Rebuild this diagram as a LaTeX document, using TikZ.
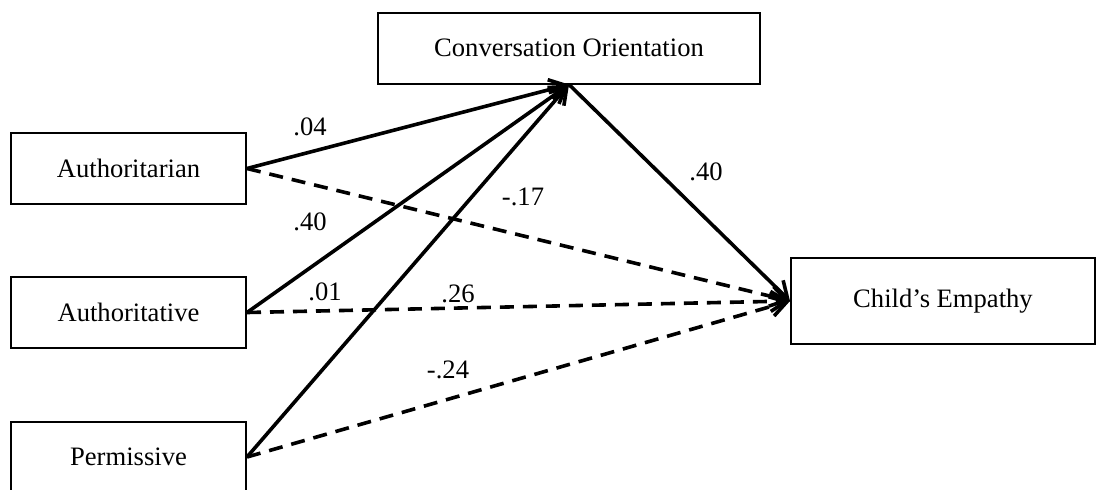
\documentclass[tikz,border=0pt]{standalone}
\usepackage{fontspec}
\setmainfont{Liberation Serif}
\usetikzlibrary{arrows.meta}

\tikzstyle{box} = [draw, line width=1pt, minimum height=35.5pt, inner sep=0pt, font=\fontsize{13.3}{15}\selectfont]
\tikzstyle{coef} = [inner sep=0pt, font=\fontsize{13.3}{15}\selectfont]
\tikzstyle{path} = [line width=1.8pt, -{Straight Barb[length=8pt,width=10pt,line width=1.8pt]}]
\tikzstyle{weak} = [path, dash pattern=on 7pt off 4.5pt]

\begin{document}
\begin{tikzpicture}[x=0.5pt,y=-0.5pt]
\useasboundingbox (0,0) rectangle (1096,489);
% boxes
\node[box, minimum width=191pt] (conv) at (569,48) {Conversation Orientation};
\node[box, minimum width=117.5pt] (auth) at (128.5,168.5) {Authoritarian};
\node[box, minimum width=117.5pt] (autv) at (128.5,312.5) {Authoritative};
\node[box, minimum width=117.5pt] (perm) at (128.5,457) {Permissive};
\node[box, minimum width=152pt, minimum height=43pt] (child) at (943,301) {Child's Empathy};
% paths to the mediator
\draw[path] (auth.east) -- (conv.south);
\draw[path] (autv.east) -- (conv.south);
\draw[path] (perm.east) -- (conv.south);
\draw[path] (conv.south) -- (child.west);
% direct paths
\draw[weak] (auth.east) -- (child.west);
\draw[weak] (autv.east) -- (child.west);
\draw[weak] (perm.east) -- (child.west);
% coefficients
\node[coef] (c1) at (310,127) {.04};
\node[coef] (c2) at (310,222) {.40};
\node[coef] (c3) at (325,292) {.01};
\node[coef] (c4) at (458,294) {.26};
\node[coef] (c5) at (523,197) {-.17};
\node[coef] (c6) at (448,370) {-.24};
\node[coef] (c7) at (706,172) {.40};
\end{tikzpicture}
\end{document}
